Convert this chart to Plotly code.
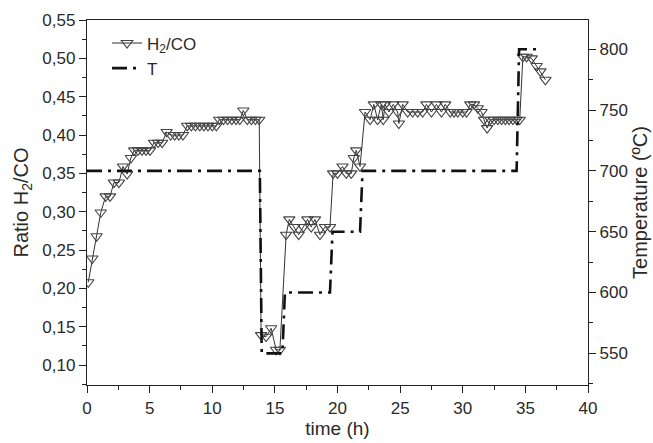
import plotly.graph_objects as go

# H2/CO ratio series
t_h2 = [0.1, 0.42, 0.77, 1.1, 1.49, 1.84, 2.15, 2.55, 2.87, 3.2, 3.5,
        3.77, 4.07, 4.39, 4.71, 5.03, 5.35, 5.68, 6.0, 6.36, 6.68, 7.0, 7.33, 7.66,
        8.0, 8.33, 8.66, 9.0, 9.33, 9.66, 10.0, 10.33,
        10.56, 10.9, 11.23, 11.56, 11.9, 12.2, 12.48, 12.8, 13.13, 13.45, 13.75,
        13.9, 14.3, 14.7, 15.1, 15.4,
        15.9, 16.15, 16.55, 16.9, 17.27, 17.6, 17.9, 18.2, 18.6, 19.0, 19.4,
        19.65, 20.0, 20.4, 20.7, 21.1, 21.3, 21.5, 21.8,
        22.2, 22.6, 22.9, 23.2, 23.5, 23.65, 23.8, 24.1, 24.45, 24.8, 24.9, 25.2,
        25.6, 26.0, 26.4, 26.8, 27.1, 27.5, 27.9, 28.3, 28.6, 29.0, 29.3, 29.6,
        30.0, 30.3, 30.6, 30.9, 31.2, 31.5, 31.7, 31.95,
        32.2, 32.5, 32.8, 33.1, 33.4, 33.7, 34.0, 34.3, 34.55,
        34.8, 35.1, 35.5, 35.9, 36.2, 36.6]
r_h2 = [0.208, 0.239, 0.268, 0.299, 0.32, 0.32, 0.338, 0.338, 0.359, 0.349, 0.37,
        0.38, 0.38, 0.38, 0.38, 0.38, 0.39, 0.39, 0.39, 0.404, 0.40, 0.40, 0.40, 0.40,
        0.412, 0.412, 0.412, 0.412, 0.412, 0.412, 0.412, 0.412,
        0.42, 0.42, 0.42, 0.42, 0.42, 0.42, 0.432, 0.42, 0.42, 0.42, 0.42,
        0.139, 0.137, 0.148, 0.12, 0.12,
        0.27, 0.29, 0.28, 0.27, 0.28, 0.29, 0.28, 0.29, 0.27, 0.28, 0.28,
        0.35, 0.35, 0.359, 0.35, 0.35, 0.37, 0.38, 0.359,
        0.43, 0.42, 0.44, 0.42, 0.44, 0.42, 0.44, 0.43, 0.44, 0.43, 0.415, 0.44,
        0.43, 0.43, 0.43, 0.43, 0.44, 0.43, 0.44, 0.43, 0.44, 0.43, 0.43, 0.43,
        0.43, 0.43, 0.44, 0.44, 0.435, 0.43, 0.42, 0.409,
        0.42, 0.42, 0.42, 0.42, 0.42, 0.42, 0.42, 0.42, 0.42,
        0.502, 0.502, 0.50, 0.49, 0.483, 0.472]

# Temperature series
t_T = [0, 13.8, 13.95, 15.6, 15.8, 19.4, 19.6, 21.8, 22.0, 34.3, 34.5, 36.2]
T_val = [700, 700, 550, 550, 600, 600, 650, 650, 700, 700, 800, 800]

x_ticks = [0, 5, 10, 15, 20, 25, 30, 35, 40]
y_ticks = [0.10, 0.15, 0.20, 0.25, 0.30, 0.35, 0.40, 0.45, 0.50, 0.55]
y2_ticks = [550, 600, 650, 700, 750, 800]

FONT = "Liberation Sans, Arial, sans-serif"
TXT = "#2a2a2a"

fig = go.Figure()
fig.add_trace(go.Scatter(
    x=t_h2, y=r_h2, mode="lines+markers", name="H<sub>2</sub>/CO",
    line=dict(color="#333333", width=1),
    marker=dict(symbol="triangle-down-open", size=10, color="#444444",
                line=dict(width=1.1, color="#444444")),
))
fig.add_trace(go.Scatter(
    x=t_T, y=T_val, mode="lines", name="T", yaxis="y2",
    line=dict(color="#111111", width=2.6, dash="15px,6px,3px,6px"),
))

axis_common = dict(
    showline=True, linecolor="#222222", linewidth=1.3,
    ticks="outside", ticklen=7, tickwidth=1.2, tickcolor="#222222",
    showgrid=False, zeroline=False, automargin=False,
    tickfont=dict(family=FONT, size=17, color=TXT),
)

fig.update_layout(
    width=653, height=443,
    margin=dict(l=87, r=65, t=20, b=58),
    paper_bgcolor="white", plot_bgcolor="white",
    separators=",.",
    showlegend=True,
    legend=dict(x=0.04, y=0.985, xanchor="left", yanchor="top",
                bgcolor="rgba(0,0,0,0)", font=dict(family=FONT, size=17, color=TXT),
                itemwidth=30, tracegroupgap=4),
    xaxis=dict(range=[0, 40], tickvals=x_ticks, mirror=True,
               minor=dict(dtick=2.5, ticklen=4, tickwidth=1, tickcolor="#222222", ticks="outside"),
               title=dict(text="time (h)", font=dict(family=FONT, size=19, color=TXT), standoff=2),
               **axis_common),
    yaxis=dict(range=[0.074, 0.55], tickvals=y_ticks, tickformat=".2f",
               minor=dict(dtick=0.025, tick0=0.075, ticklen=4, tickwidth=1, tickcolor="#222222", ticks="outside"),
               title=dict(text="Ratio H<sub>2</sub>/CO", font=dict(family=FONT, size=20, color=TXT), standoff=8),
               **axis_common),
    yaxis2=dict(range=[524, 824], tickvals=y2_ticks, overlaying="y", side="right",
                minor=dict(dtick=25, tick0=525, ticklen=4, tickwidth=1, tickcolor="#222222", ticks="outside"),
                title=dict(text="Temperature (ºC)", font=dict(family=FONT, size=20, color=TXT), standoff=6),
                **axis_common),
)

fig.write_html("out.html")
